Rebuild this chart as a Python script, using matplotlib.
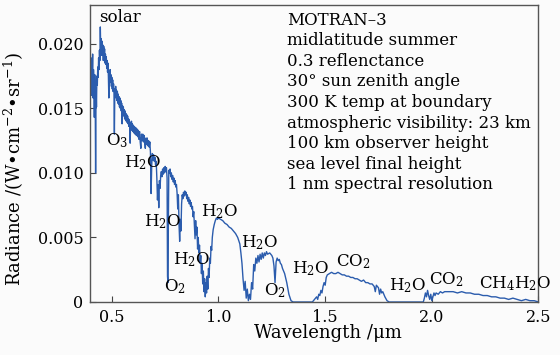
import numpy as np
import matplotlib
matplotlib.use('Agg')
import matplotlib.pyplot as plt

# MODTRAN radiance spectrum, wavelength in um, radiance in 1e-3 W cm^-2 sr^-1
wavelength = [
    0.400, 0.402, 0.404, 0.406, 0.408, 0.410, 0.412, 0.414, 0.416, 0.418,
    0.420, 0.422, 0.424, 0.426, 0.428, 0.430, 0.432, 0.434, 0.436, 0.438,
    0.440, 0.442, 0.444, 0.446, 0.448, 0.450, 0.452, 0.454, 0.456, 0.458,
    0.460, 0.462, 0.464, 0.466, 0.468, 0.470, 0.472, 0.474, 0.476, 0.478,
    0.480, 0.482, 0.484, 0.486, 0.488, 0.490, 0.492, 0.494, 0.496, 0.498,
    0.500, 0.502, 0.504, 0.506, 0.508, 0.510, 0.512, 0.514, 0.516, 0.518,
    0.520, 0.522, 0.524, 0.526, 0.528, 0.530, 0.532, 0.534, 0.536, 0.538,
    0.540, 0.542, 0.544, 0.546, 0.548, 0.550, 0.552, 0.554, 0.556, 0.558,
    0.560, 0.562, 0.564, 0.566, 0.568, 0.570, 0.572, 0.574, 0.576, 0.578,
    0.580, 0.582, 0.584, 0.586, 0.588, 0.590, 0.592, 0.594, 0.596, 0.598,
    0.600, 0.603, 0.606, 0.609, 0.612, 0.615, 0.618, 0.621, 0.624, 0.627,
    0.630, 0.633, 0.636, 0.639, 0.642, 0.645, 0.648, 0.651, 0.654, 0.657,
    0.660, 0.663, 0.666, 0.669, 0.672, 0.675, 0.678, 0.681, 0.684, 0.687,
    0.690, 0.693, 0.696, 0.699, 0.702, 0.705, 0.708, 0.711, 0.714, 0.717,
    0.720, 0.723, 0.726, 0.729, 0.732, 0.735, 0.738, 0.741, 0.744, 0.747,
    0.750, 0.753, 0.756, 0.759, 0.761, 0.763, 0.765, 0.767, 0.770, 0.773,
    0.776, 0.779, 0.782, 0.785, 0.788, 0.791, 0.794, 0.797, 0.800, 0.803,
    0.806, 0.809, 0.812, 0.815, 0.818, 0.821, 0.824, 0.827, 0.830, 0.833,
    0.836, 0.839, 0.842, 0.845, 0.848, 0.851, 0.854, 0.857, 0.860, 0.863,
    0.866, 0.869, 0.872, 0.875, 0.878, 0.881, 0.884, 0.887, 0.890, 0.893,
    0.896, 0.899, 0.902, 0.905, 0.908, 0.911, 0.914, 0.917, 0.920, 0.923,
    0.926, 0.929, 0.932, 0.935, 0.938, 0.941, 0.944, 0.947, 0.950, 0.953,
    0.956, 0.959, 0.962, 0.965, 0.968, 0.971, 0.975, 0.980, 0.985, 0.990,
    0.995, 1.000, 1.010, 1.020, 1.030, 1.040, 1.050, 1.060, 1.070, 1.080,
    1.090, 1.100, 1.105, 1.110, 1.115, 1.120, 1.125, 1.130, 1.135, 1.140,
    1.145, 1.150, 1.155, 1.160, 1.165, 1.170, 1.175, 1.180, 1.185, 1.190,
    1.195, 1.200, 1.205, 1.210, 1.215, 1.220, 1.225, 1.230, 1.240, 1.250,
    1.255, 1.260, 1.265, 1.270, 1.275, 1.280, 1.285, 1.290, 1.295, 1.300,
    1.310, 1.320, 1.330, 1.340, 1.350, 1.440, 1.450, 1.460, 1.465, 1.470,
    1.475, 1.480, 1.485, 1.490, 1.495, 1.500, 1.505, 1.510, 1.520, 1.530,
    1.540, 1.550, 1.560, 1.570, 1.580, 1.590, 1.600, 1.610, 1.620, 1.630,
    1.640, 1.650, 1.660, 1.670, 1.680, 1.690, 1.700, 1.710, 1.720, 1.730,
    1.735, 1.740, 1.750, 1.755, 1.760, 1.765, 1.770, 1.780, 1.790, 1.800,
    1.960, 1.965, 1.970, 1.975, 1.980, 1.985, 1.990, 1.995, 2.000, 2.005,
    2.010, 2.015, 2.020, 2.030, 2.040, 2.050, 2.060, 2.070, 2.080, 2.090,
    2.100, 2.120, 2.140, 2.160, 2.180, 2.200, 2.220, 2.240, 2.260, 2.280,
    2.300, 2.320, 2.340, 2.360, 2.380, 2.400, 2.420, 2.440, 2.460, 2.480,
    2.500,
]
radiance_milli = [
    17.0, 18.6, 16.0, 18.9, 17.4, 19.2, 15.8, 18.0, 17.2, 14.3,
    17.6, 16.2, 10.0, 16.6, 15.1, 17.5, 16.8, 18.2, 17.4, 18.9,
    18.0, 19.5, 18.7, 21.3, 19.6, 20.4, 19.1, 20.2, 19.4, 19.9,
    18.7, 19.8, 19.0, 19.6, 18.5, 19.2, 18.4, 19.0, 18.1, 18.7,
    17.8, 18.5, 17.4, 15.8, 17.9, 17.2, 18.0, 17.0, 17.6, 16.7,
    17.4, 16.5, 17.2, 16.3, 16.9, 16.4, 13.0, 16.5, 16.0, 16.7,
    15.8, 16.4, 15.6, 16.3, 15.4, 16.1, 15.3, 15.9, 15.1, 15.8,
    15.0, 15.6, 14.8, 15.4, 13.8, 15.2, 14.6, 15.1, 14.4, 14.9,
    14.2, 14.8, 14.1, 14.6, 14.0, 14.5, 13.9, 14.4, 13.8, 14.2,
    13.6, 14.1, 13.5, 12.3, 13.9, 13.4, 14.0, 13.3, 13.8, 13.2,
    13.7, 13.1, 13.6, 13.0, 13.5, 12.9, 13.4, 12.8, 13.3, 12.6,
    13.2, 12.4, 11.9, 13.0, 12.5, 13.0, 12.4, 12.9, 12.3, 11.9,
    12.7, 12.2, 12.7, 12.1, 12.5, 12.0, 12.4, 11.6, 8.4, 10.6,
    11.5, 11.0, 11.4, 10.9, 11.2, 10.6, 10.9, 9.6, 7.9, 9.1,
    7.3, 9.4, 8.8, 9.8, 10.1, 9.7, 10.3, 9.9, 10.4, 10.0,
    10.5, 10.1, 10.4, 9.6, 2.0, 1.5, 6.5, 10.2, 10.0, 10.3,
    9.7, 10.0, 9.5, 9.8, 9.3, 9.6, 9.1, 9.4, 8.9, 9.1,
    8.4, 7.2, 8.3, 6.0, 4.7, 6.4, 5.5, 7.6, 8.3, 8.0,
    8.5, 8.2, 8.6, 8.3, 8.5, 8.0, 8.3, 7.8, 8.1, 7.6,
    7.9, 7.4, 7.7, 7.2, 7.4, 6.6, 7.0, 6.0, 4.9, 6.3,
    5.2, 5.8, 4.1, 5.0, 3.8, 4.4, 3.0, 3.6, 2.2, 3.0,
    1.4, 2.4, 0.8, 1.8, 0.4, 1.5, 0.7, 2.0, 1.0, 2.6,
    1.9, 3.4, 3.0, 4.3, 4.0, 5.0, 5.6, 6.0, 6.3, 6.5,
    6.4, 6.5, 6.4, 6.3, 6.1, 6.0, 5.8, 5.7, 5.5, 5.3,
    5.0, 4.5, 3.8, 3.0, 1.8, 0.9, 1.6, 0.3, 1.0, 0.1,
    0.6, 0.2, 1.5, 1.0, 2.9, 2.4, 3.4, 3.0, 3.6, 3.1,
    3.7, 3.3, 3.8, 3.4, 3.8, 3.6, 3.9, 3.7, 3.8, 3.6,
    3.4, 2.8, 1.5, 3.1, 3.4, 3.2, 3.3, 3.0, 2.9, 2.6,
    2.2, 1.5, 0.6, 0.1, 0.0, 0.0, 0.2, 0.4, 0.2, 0.6,
    0.5, 0.9, 0.7, 1.2, 1.5, 1.3, 1.9, 2.1, 2.2, 2.3,
    2.2, 2.2, 2.3, 2.2, 2.1, 2.1, 2.0, 2.0, 1.9, 1.9,
    1.8, 1.8, 1.7, 1.6, 1.7, 1.5, 1.5, 1.4, 1.4, 1.2,
    0.8, 1.3, 1.1, 0.6, 1.0, 0.7, 0.8, 0.4, 0.1, 0.0,
    0.0, 0.3, 0.7, 0.4, 0.9, 0.5, 0.2, 0.6, 0.1, 0.4,
    0.7, 0.5, 0.7, 0.6, 0.8, 0.7, 0.8, 0.8, 0.8, 0.8,
    0.8, 0.7, 0.8, 0.7, 0.7, 0.6, 0.6, 0.5, 0.5, 0.4,
    0.4, 0.3, 0.3, 0.2, 0.3, 0.2, 0.1, 0.2, 0.1, 0.1,
    0.0,
]

# absorber labels: text, wavelength, radiance (1e-3 units)
band_labels = [r'$\mathrm{O_3}$', r'$\mathrm{H_2O}$', r'$\mathrm{H_2O}$', r'$\mathrm{O_2}$',
               r'$\mathrm{H_2O}$', r'$\mathrm{H_2O}$', r'$\mathrm{H_2O}$', r'$\mathrm{O_2}$',
               r'$\mathrm{H_2O}$', r'$\mathrm{CO_2}$', r'$\mathrm{H_2O}$', r'$\mathrm{CO_2}$',
               r'$\mathrm{CH_4H_2O}$']
band_x = [0.475, 0.555, 0.650, 0.745, 0.787, 0.918, 1.105, 1.214, 1.345, 1.550, 1.797, 1.985, 2.222]
band_y = [12.5, 10.8, 6.2, 1.2, 3.3, 7.0, 4.6, 0.9, 2.6, 3.1, 1.3, 1.7, 1.4]

run_info = [
    'MOTRAN\u20133',
    'midlatitude summer',
    '0.3 reflenctance',
    '30\u00b0 sun zenith angle',
    '300 K temp at boundary',
    'atmospheric visibility: 23 km',
    '100 km observer height',
    'sea level final height',
    '1 nm spectral resolution',
]

plt.rcParams['font.family'] = 'DejaVu Serif'
plt.rcParams['mathtext.fontset'] = 'dejavuserif'
plt.rcParams['font.size'] = 12

radiance = np.array(radiance_milli) * 1e-3

fig = plt.figure(figsize=(5.6, 3.55), dpi=100)
fig.patch.set_facecolor('#fbfbfb')
ax = fig.add_axes([0.1616, 0.1493, 0.80, 0.8366])
ax.set_facecolor('#fbfbfb')

ax.plot(wavelength, radiance, color='#2b5cad', lw=1.0)

ax.set_xlim(0.4, 2.5)
ax.set_ylim(0, 0.023)
ax.set_xticks([0.5, 1.0, 1.5, 2.0, 2.5])
ax.set_xticklabels(['0.5', '1.0', '1.5', '2.0', '2.5'])
ax.set_yticks([0, 0.005, 0.010, 0.015, 0.020])
ax.set_yticklabels(['0', '0.005', '0.010', '0.015', '0.020'])
ax.tick_params(direction='in', length=4, width=0.8, color='#444444', labelsize=11.5, pad=5)
for sp in ax.spines.values():
    sp.set_color('#555555')
    sp.set_linewidth(1.0)

ax.set_xlabel('Wavelength /\u03bcm', fontsize=13)
ax.set_ylabel('Radiance /(W\u2022cm$^{-2}$\u2022sr$^{-1}$)', fontsize=13)
ax.xaxis.set_label_coords(0.530, -0.075)
ax.yaxis.set_label_coords(-0.145, 0.448)

ax.text(0.54, 0.0220, 'solar', ha='center', va='center', fontsize=12)
for lab, x, y in zip(band_labels, band_x, band_y):
    ax.text(x, y * 1e-3, lab, ha='left', va='center', fontsize=12, clip_on=False)

for i, line in enumerate(run_info):
    ax.text(0.438, 0.9495 - i * 0.0694, line, transform=ax.transAxes,
            ha='left', va='center', fontsize=12)

plt.savefig('out.png', dpi=100, facecolor=fig.get_facecolor())
